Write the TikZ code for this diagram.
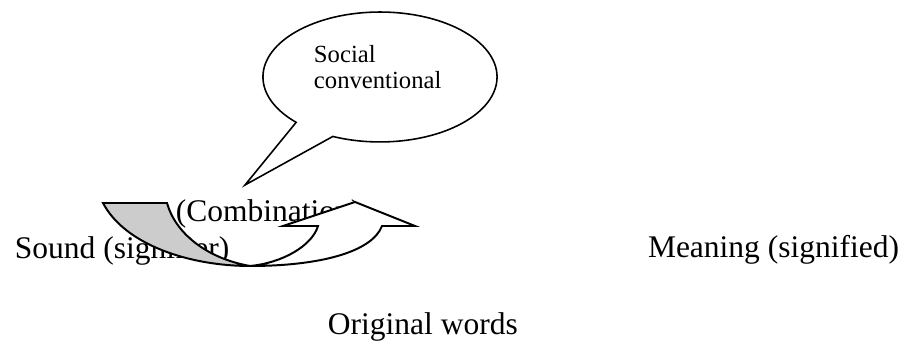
\documentclass[tikz,border=0pt]{standalone}
\usepackage{fontspec}
\setmainfont{Liberation Serif}
\usetikzlibrary{shapes.callouts}
\definecolor{backgray}{gray}{0.8}
\begin{document}
\begin{tikzpicture}[x=0.381pt,y=-0.381pt,line width=0.75pt,
    lbl/.style={anchor=base west,inner sep=0pt,font=\fontsize{12}{14}\selectfont},
    small/.style={anchor=base west,inner sep=0pt,align=left,
      font=\fontsize{9.4}{10}\selectfont},
    bubble/.style={ellipse callout,draw,line width=0.6pt,minimum width=89.2pt,
      minimum height=49.5pt,inner sep=0pt,callout pointer arc=22}]
  \useasboundingbox (0,0) rectangle (905,341);
  \node[lbl] (sound) at (14,259) {Sound (signifier)};
  \node[lbl] (meaning) at (647,258) {Meaning (signified)};
  \node[lbl] (words) at (327,335) {Original words};
  \node[lbl] (comb) at (175,222) {(Combination)};

  \coordinate (tip) at (245,185);
  \node[bubble,callout absolute pointer={(tip)}] (social) at (380,77) {};
  \node[small] (socialtext) at (313,89) {Social\\conventional};

  % curved arrow
  \coordinate (a) at (103,203);
  \coordinate (b) at (167,203);
  \coordinate (p) at (250,266);
  \coordinate (e) at (318,226);
  \coordinate (f) at (283,226);
  \coordinate (g) at (355,202);
  \coordinate (h) at (415,226);
  \coordinate (i) at (382,226);
  \draw[fill=backgray] (b) .. controls (175,232) and (205,258) .. (p)
    .. controls (190,266) and (125,245) .. (a) -- cycle;
  \draw[fill=white] (i) .. controls (372,252) and (320,266) .. (p)
    .. controls (282,263) and (312,246) .. (e) -- (f) -- (g) -- (h) -- cycle;
\end{tikzpicture}
\end{document}
